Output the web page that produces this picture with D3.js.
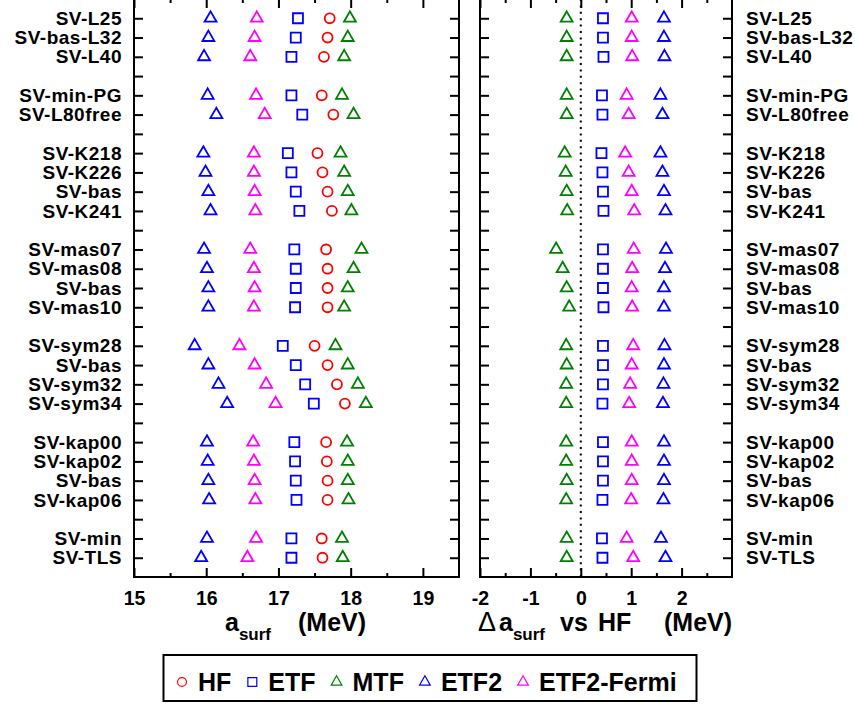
<!DOCTYPE html>
<html>
<head>
<meta charset="utf-8">
<script src="https://cdn.jsdelivr.net/npm/d3@7/dist/d3.min.js"></script>
<style>
  body { margin: 0; background: #fff; }
  text { font-family: "Liberation Sans", Arial, Helvetica, sans-serif; font-weight: bold; fill: #000; }
</style>
</head>
<body>
<div id="wrapper"></div>
<script>
// row labels, top to bottom (null = empty row between groups)
const categories = [
  "SV-L25", "SV-bas-L32", "SV-L40", null,
  "SV-min-PG", "SV-L80free", null,
  "SV-K218", "SV-K226", "SV-bas", "SV-K241", null,
  "SV-mas07", "SV-mas08", "SV-bas", "SV-mas10", null,
  "SV-sym28", "SV-bas", "SV-sym32", "SV-sym34", null,
  "SV-kap00", "SV-kap02", "SV-bas", "SV-kap06", null,
  "SV-min", "SV-TLS"
];

// a_surf (MeV), one value per non-empty row
const hfValues    = [17.71, 17.68, 17.63, 17.60, 17.76, 17.54, 17.61, 17.68, 17.74, 17.66, 17.68, 17.68, 17.68, 17.50, 17.68, 17.81, 17.92, 17.66, 17.67, 17.68, 17.68, 17.60, 17.61];
const etfValues   = [17.27, 17.24, 17.18, 17.18, 17.33, 17.13, 17.18, 17.24, 17.29, 17.22, 17.24, 17.24, 17.23, 17.06, 17.24, 17.37, 17.49, 17.22, 17.23, 17.24, 17.25, 17.18, 17.18];
const mtfValues   = [17.99, 17.96, 17.91, 17.88, 18.04, 17.86, 17.91, 17.96, 18.01, 18.15, 18.04, 17.96, 17.91, 17.79, 17.96, 18.10, 18.21, 17.95, 17.96, 17.96, 17.97, 17.88, 17.89];
const etf2Values  = [16.06, 16.03, 15.97, 16.02, 16.14, 15.96, 15.99, 16.03, 16.06, 15.97, 16.01, 16.03, 16.03, 15.84, 16.03, 16.17, 16.29, 16.01, 16.02, 16.03, 16.04, 16.01, 15.93];
const fermiValues = [16.70, 16.67, 16.61, 16.69, 16.81, 16.66, 16.66, 16.67, 16.68, 16.61, 16.66, 16.67, 16.66, 16.46, 16.67, 16.83, 16.96, 16.65, 16.66, 16.67, 16.68, 16.69, 16.57];

const seriesNames = ["HF", "ETF", "MTF", "ETF2", "ETF2-Fermi"];
const leftTicks = [15, 16, 17, 18, 19];
const leftMinorTicks = [15.5, 16.5, 17.5, 18.5];
const rightTicks = [-2, -1, 0, 1, 2];
const rightMinorTicks = [-1.5, -0.5, 0.5, 1.5, 2.5];

function drawChart() {

  // 1. Prepare data

  const seriesValues = [hfValues, etfValues, mtfValues, etf2Values, fermiValues];
  const colors = ["#ff0000", "#0000ff", "#008000", "#0000ff", "#ff00ff"];
  const shapes = [d3.symbolCircle, d3.symbolSquare, d3.symbolTriangle, d3.symbolTriangle, d3.symbolTriangle];
  const sizes = [78, 100, 62, 62, 62];

  const rows = [];
  let k = 0;
  categories.forEach((name, i) => {
    if (name !== null) {
      rows.push({ name, pos: i + 1, k });
      k++;
    }
  });

  // right panel shows HF minus each model
  const points = [];
  seriesNames.forEach((s, si) => {
    rows.forEach(r => {
      const v = seriesValues[si][r.k];
      points.push({ series: si, pos: r.pos, value: v, delta: hfValues[r.k] - v });
    });
  });

  // 2. Dimensions

  const dimensions = {
    width: 855,
    height: 705,
    top: -1,
    bottom: 577,
    left: { x0: 134, x1: 459 },
    right: { x0: 480, x1: 732 },
  };

  const svg = d3.select("#wrapper")
    .append("svg")
      .attr("width", dimensions.width)
      .attr("height", dimensions.height);

  // 3. Scales

  const yScale = d3.scaleLinear()
    .domain([0, categories.length + 1])
    .range([dimensions.top, dimensions.bottom]);

  const xLeft = d3.scaleLinear()
    .domain([15, 19.5])
    .range([dimensions.left.x0, dimensions.left.x1]);

  const xRight = d3.scaleLinear()
    .domain([-2, 3])
    .range([dimensions.right.x0, dimensions.right.x1]);

  const rowTicks = d3.range(1, categories.length + 1);

  // 4. Frames and axes

  function drawPanel(xScale, ticks, minorTicks) {
    const x0 = xScale.range()[0], x1 = xScale.range()[1];
    const g = svg.append("g");

    // bottom major / minor
    g.append("g")
        .attr("transform", `translate(0,${dimensions.bottom})`)
        .call(d3.axisBottom(xScale).tickValues(ticks).tickSize(-9).tickPadding(14)
          .tickFormat(d => String(d)))
        .call(a => a.selectAll("text").style("font-size", "19.5px"));
    g.append("g")
        .attr("transform", `translate(0,${dimensions.bottom})`)
        .call(d3.axisBottom(xScale).tickValues(minorTicks).tickSize(-4).tickFormat(""));
    // top major / minor
    g.append("g")
        .attr("transform", `translate(0,${dimensions.top})`)
        .call(d3.axisTop(xScale).tickValues(ticks).tickSize(-9).tickFormat(""));
    g.append("g")
        .attr("transform", `translate(0,${dimensions.top})`)
        .call(d3.axisTop(xScale).tickValues(minorTicks).tickSize(-4).tickFormat(""));
    // left / right row ticks
    g.append("g")
        .attr("transform", `translate(${x0},0)`)
        .call(d3.axisLeft(yScale).tickValues(rowTicks).tickSize(-9).tickFormat(""));
    g.append("g")
        .attr("transform", `translate(${x1},0)`)
        .call(d3.axisRight(yScale).tickValues(rowTicks).tickSize(-9).tickFormat(""));

    g.selectAll(".domain").remove();
    g.selectAll(".tick line").attr("stroke", "#000").attr("stroke-width", 2);
    g.selectAll(".tick text").attr("fill", "#000");

    g.append("rect")
        .attr("x", x0)
        .attr("y", dimensions.top)
        .attr("width", x1 - x0)
        .attr("height", dimensions.bottom - dimensions.top)
        .attr("fill", "none")
        .attr("stroke", "#000")
        .attr("stroke-width", 2);
    return g;
  }

  drawPanel(xLeft, leftTicks, leftMinorTicks);
  drawPanel(xRight, rightTicks, rightMinorTicks);

  // zero line in right panel
  svg.append("line")
      .attr("x1", xRight(0))
      .attr("x2", xRight(0))
      .attr("y1", dimensions.top)
      .attr("y2", dimensions.bottom)
      .attr("stroke", "#000")
      .attr("stroke-width", 2)
      .attr("stroke-dasharray", "2,4.4");

  // row labels on both sides
  svg.append("g")
    .selectAll("text")
    .data(rows)
    .join("text")
      .attr("x", dimensions.left.x0 - 12)
      .attr("y", d => yScale(d.pos))
      .attr("dy", "0.35em")
      .attr("text-anchor", "end")
      .style("font-size", "19px")
      .style("letter-spacing", "0.5px")
      .text(d => d.name);

  svg.append("g")
    .selectAll("text")
    .data(rows)
    .join("text")
      .attr("x", dimensions.right.x1 + 14)
      .attr("y", d => yScale(d.pos))
      .attr("dy", "0.35em")
      .attr("text-anchor", "start")
      .style("font-size", "19px")
      .style("letter-spacing", "0.5px")
      .text(d => d.name);

  // 5. Draw markers

  const symbol = d => d3.symbol().type(shapes[d.series]).size(sizes[d.series])();

  svg.append("g")
    .selectAll("path")
    .data(points)
    .join("path")
      .attr("d", symbol)
      .attr("transform", d => `translate(${xLeft(d.value)},${yScale(d.pos)})`)
      .attr("fill", "none")
      .attr("stroke", d => colors[d.series])
      .attr("stroke-width", 1.8);

  svg.append("g")
    .selectAll("path")
    .data(points.filter(d => d.series !== 0))
    .join("path")
      .attr("d", symbol)
      .attr("transform", d => `translate(${xRight(d.delta)},${yScale(d.pos)})`)
      .attr("fill", "none")
      .attr("stroke", d => colors[d.series])
      .attr("stroke-width", 1.8);

  // 6. Axis titles

  const titleY = 631;
  const leftTitle = svg.append("text")
      .attr("x", 225)
      .attr("y", titleY)
      .style("font-size", "25px");
  leftTitle.append("tspan").text("a");
  leftTitle.append("tspan").attr("dy", 9).style("font-size", "17px").text("surf");
  leftTitle.append("tspan").attr("x", 298).attr("y", titleY).text("(MeV)");

  const rightTitle = svg.append("text")
      .attr("x", 478)
      .attr("y", titleY)
      .style("font-size", "25px");
  rightTitle.append("tspan").style("font-weight", "normal").style("font-size", "27px").text("\u0394");
  rightTitle.append("tspan").attr("x", 499).text("a");
  rightTitle.append("tspan").attr("dy", 9).style("font-size", "17px").text("surf");
  rightTitle.append("tspan").attr("x", 560).attr("y", titleY).text("vs");
  rightTitle.append("tspan").attr("x", 598).text("HF");
  rightTitle.append("tspan").attr("x", 664).text("(MeV)");

  // 7. Legend

  const legend = svg.append("g");
  legend.append("rect")
      .attr("x", 163.5)
      .attr("y", 655)
      .attr("width", 533)
      .attr("height", 46)
      .attr("fill", "#fff")
      .attr("stroke", "#000")
      .attr("stroke-width", 2);

  let lx = 182;
  const ly = 682;
  seriesNames.forEach((name, si) => {
    legend.append("path")
        .attr("d", d3.symbol().type(shapes[si]).size(sizes[si] * 0.8)())
        .attr("transform", `translate(${lx},${ly})`)
        .attr("fill", "none")
        .attr("stroke", colors[si])
        .attr("stroke-width", 1.2);
    const t = legend.append("text")
        .attr("x", lx + 16)
        .attr("y", ly + 9)
        .style("font-size", "25px")
        .text(name);
    lx = lx + 16 + t.node().getComputedTextLength() + 21;
  });
}
drawChart();
</script>
</body>
</html>
